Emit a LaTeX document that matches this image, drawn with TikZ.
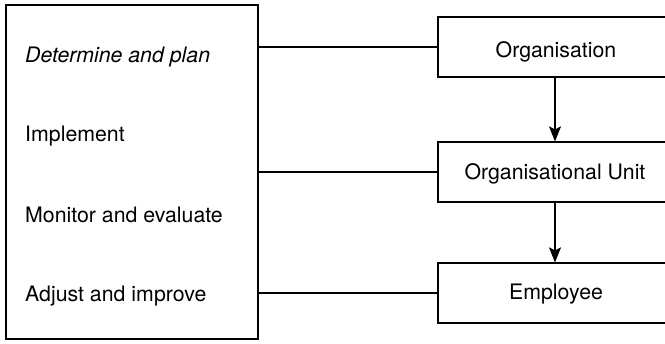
\documentclass[tikz,border=0pt]{standalone}
\usepackage{fontspec}
\setmainfont{TeX Gyre Heros}
\usetikzlibrary{arrows.meta}
\begin{document}
\begin{tikzpicture}[x=1pt,y=1pt,
  every node/.style={font=\fontsize{21.3}{25}\selectfont},
  box/.style={draw,line width=1.2pt,inner sep=0pt},
  lbl/.style={anchor=base west,inner sep=0pt},
  ctr/.style={anchor=base,inner sep=0pt},
  conn/.style={line width=1.2pt},
  arr/.style={line width=1.2pt,-{Stealth[length=15pt,width=12pt,inset=3pt]}}]
\useasboundingbox (0,0) rectangle (665,-344);
\node[box,minimum width=252pt,minimum height=334pt] (left) at (132,-172) {};
\node[lbl] (t1) at (25,-63) {\itshape Determine and plan};
\node[lbl] (t2) at (25,-142) {Implement};
\node[lbl] (t3) at (25,-223) {Monitor and evaluate};
\node[lbl] (t4) at (25,-302) {Adjust and improve};
\node[box,minimum width=236pt,minimum height=60pt] (org) at (556,-47) {};
\node[ctr] (orgt) at (556,-58) {Organisation};
\node[box,minimum width=236pt,minimum height=60pt] (unit) at (556,-172) {};
\node[ctr] (unitt) at (555,-180) {Organisational Unit};
\node[box,minimum width=236pt,minimum height=60pt] (emp) at (556,-293) {};
\node[ctr] (empt) at (556,-300) {Employee};
\draw[conn] (left.east |- org.west) -- (org.west);
\draw[conn] (left.east |- unit.west) -- (unit.west);
\draw[conn] (left.east |- emp.west) -- (emp.west);
\draw[arr] (org.south -| 555,0) -- (unit.north -| 555,0);
\draw[arr] (unit.south -| 555,0) -- (emp.north -| 555,0);
\end{tikzpicture}
\end{document}
